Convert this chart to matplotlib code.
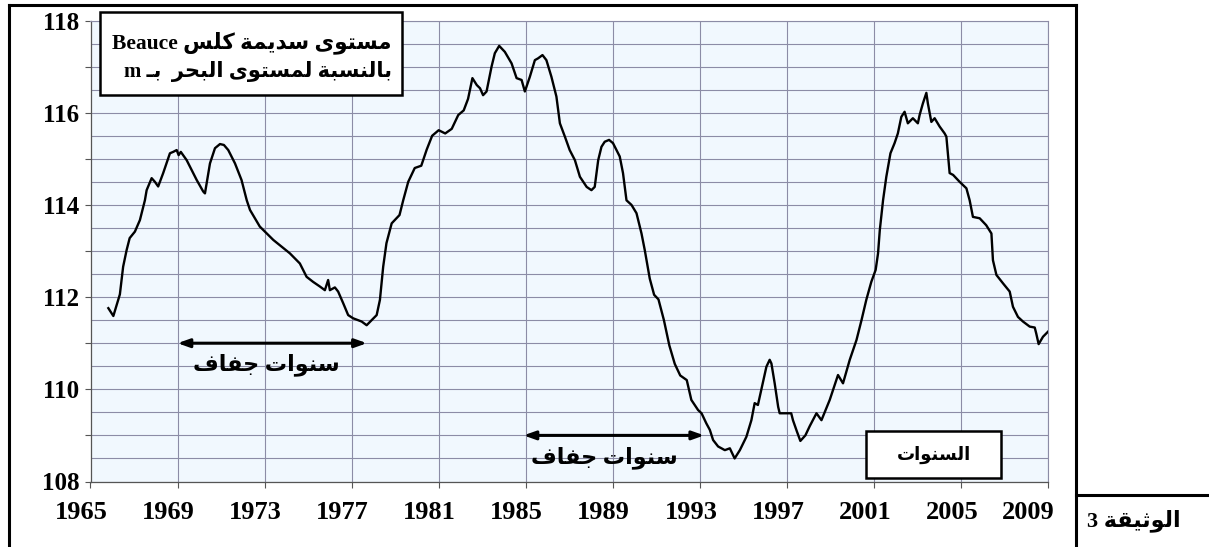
import matplotlib
matplotlib.use('Agg')
import matplotlib.pyplot as plt
from matplotlib.patches import Rectangle
from matplotlib.lines import Line2D
from matplotlib.transforms import ScaledTranslation

# ---------------- data ----------------
years = [1965.82, 1966.05, 1966.35, 1966.5, 1966.66, 1966.8, 1967.04, 1967.27, 1967.5, 1967.58,
         1967.81, 1967.96, 1968.11, 1968.34, 1968.65, 1968.8, 1968.96, 1969.05, 1969.15, 1969.42,
         1969.88, 1970.18, 1970.26, 1970.49, 1970.72, 1970.95, 1971.13, 1971.33, 1971.64, 1971.94,
         1972.18, 1972.33, 1972.78, 1973.4, 1974.16, 1974.62, 1974.93, 1975.23, 1975.54, 1975.77,
         1975.92, 1976.0, 1976.23, 1976.38, 1976.61, 1976.84, 1977.07, 1977.46, 1977.69, 1977.92,
         1978.15, 1978.3, 1978.45, 1978.6, 1978.84, 1979.2, 1979.37, 1979.6, 1979.9, 1980.2,
         1980.45, 1980.7, 1981.0, 1981.3, 1981.6, 1981.9, 1982.15, 1982.35, 1982.55, 1982.75,
         1982.9, 1983.04, 1983.2, 1983.43, 1983.58, 1983.78, 1984.04, 1984.35, 1984.58, 1984.81,
         1984.96, 1985.19, 1985.42, 1985.57, 1985.77, 1985.95, 1986.18, 1986.41, 1986.57, 1986.8,
         1987.02, 1987.26, 1987.49, 1987.8, 1988.02, 1988.17, 1988.33, 1988.48, 1988.63, 1988.83,
         1989.01, 1989.32, 1989.47, 1989.63, 1989.86, 1990.09, 1990.32, 1990.47, 1990.7, 1990.9,
         1991.1, 1991.35, 1991.6, 1991.85, 1992.1, 1992.4, 1992.61, 1992.92, 1993.08, 1993.3,
         1993.46, 1993.61, 1993.84, 1994.15, 1994.38, 1994.6, 1994.84, 1995.14, 1995.37, 1995.52,
         1995.67, 1995.83, 1996.06, 1996.21, 1996.29, 1996.44, 1996.6, 1996.67, 1997.2, 1997.28,
         1997.45, 1997.62, 1997.85, 1998.05, 1998.36, 1998.59, 1998.97, 1999.35, 1999.58, 1999.89,
         2000.2, 2000.43, 2000.65, 2000.88, 2001.08, 2001.19, 2001.27, 2001.42, 2001.57, 2001.76,
         2001.95, 2002.1, 2002.26, 2002.41, 2002.56, 2002.79, 2003.02, 2003.1, 2003.25, 2003.41,
         2003.48, 2003.64, 2003.79, 2004.02, 2004.25, 2004.33, 2004.48, 2004.64, 2004.94, 2005.25,
         2005.4, 2005.55, 2005.86, 2006.16, 2006.4, 2006.47, 2006.63, 2006.93, 2007.24, 2007.39,
         2007.62, 2007.85, 2008.16, 2008.39, 2008.46, 2008.57, 2008.77, 2009.0]
levels = [111.76, 111.59, 112.06, 112.66, 113.02, 113.28, 113.42, 113.67, 114.1, 114.32,
          114.58, 114.5, 114.4, 114.69, 115.12, 115.15, 115.19, 115.08, 115.15, 114.97,
          114.54, 114.29, 114.25, 114.9, 115.23, 115.32, 115.3, 115.19, 114.9, 114.54,
          114.1, 113.89, 113.53, 113.24, 112.95, 112.73, 112.44, 112.33, 112.23, 112.15,
          112.37, 112.15, 112.21, 112.12, 111.87, 111.61, 111.54, 111.47, 111.39, 111.5,
          111.61, 111.94, 112.66, 113.17, 113.6, 113.78, 114.1, 114.5, 114.8, 114.85,
          115.2, 115.5, 115.62, 115.55, 115.65, 115.95, 116.05, 116.3, 116.75, 116.6,
          116.53, 116.38, 116.46, 117.0, 117.29, 117.45, 117.32, 117.07, 116.75, 116.71,
          116.46, 116.78, 117.14, 117.18, 117.25, 117.14, 116.78, 116.35, 115.77, 115.48,
          115.19, 114.97, 114.61, 114.39, 114.32, 114.39, 114.97, 115.26, 115.37, 115.41,
          115.34, 115.05, 114.69, 114.1, 114.0, 113.82, 113.38, 113.02, 112.4, 112.05,
          111.95, 111.5, 110.95, 110.55, 110.3, 110.2, 109.77, 109.55, 109.48, 109.26,
          109.12, 108.9, 108.76, 108.68, 108.72, 108.5, 108.68, 108.97, 109.33, 109.7,
          109.66, 110.0, 110.49, 110.64, 110.56, 110.13, 109.62, 109.48, 109.48, 109.33,
          109.1, 108.88, 109.0, 109.2, 109.48, 109.33, 109.77, 110.31, 110.13, 110.64,
          111.07, 111.5, 111.94, 112.33, 112.59, 112.95, 113.45, 114.1, 114.61, 115.12,
          115.34, 115.55, 115.91, 116.02, 115.77, 115.88, 115.77, 115.95, 116.2, 116.43,
          116.2, 115.8, 115.88, 115.7, 115.55, 115.48, 114.69, 114.65, 114.5, 114.36,
          114.1, 113.74, 113.71, 113.56, 113.38, 112.8, 112.48, 112.3, 112.12, 111.79,
          111.57, 111.47, 111.36, 111.34, 111.21, 110.98, 111.14, 111.25]

x_ticks = [1965, 1969, 1973, 1977, 1981, 1985, 1989, 1993, 1997, 2001, 2005, 2009]
y_label_ticks = [108, 110, 112, 114, 116, 118]
y_all_ticks = [108, 109, 110, 111, 112, 113, 114, 115, 116, 117, 118]
drought_periods = [(1969.0, 1977.7, 111.0), (1984.9, 1993.2, 109.0)]

title_line1 = "مستوى سديمة كلس Beauce"
title_line2 = "بالنسبة لمستوى البحر  بـ m"
drought_text = "سنوات جفاف"
xlabel_text = "السنوات"
doc_text = "الوثيقة 3"

# ------------- minimal Arabic shaping (presentation forms) -------------
FORMS = {
    '\u0627': ('\uFE8D', '\uFE8E', None, None),
    '\u0623': ('\uFE83', '\uFE84', None, None),
    '\u0625': ('\uFE87', '\uFE88', None, None),
    '\u0622': ('\uFE81', '\uFE82', None, None),
    '\u0628': ('\uFE8F', '\uFE90', '\uFE91', '\uFE92'),
    '\u0629': ('\uFE93', '\uFE94', None, None),
    '\u062A': ('\uFE95', '\uFE96', '\uFE97', '\uFE98'),
    '\u062B': ('\uFE99', '\uFE9A', '\uFE9B', '\uFE9C'),
    '\u062C': ('\uFE9D', '\uFE9E', '\uFE9F', '\uFEA0'),
    '\u062D': ('\uFEA1', '\uFEA2', '\uFEA3', '\uFEA4'),
    '\u062E': ('\uFEA5', '\uFEA6', '\uFEA7', '\uFEA8'),
    '\u062F': ('\uFEA9', '\uFEAA', None, None),
    '\u0630': ('\uFEAB', '\uFEAC', None, None),
    '\u0631': ('\uFEAD', '\uFEAE', None, None),
    '\u0632': ('\uFEAF', '\uFEB0', None, None),
    '\u0633': ('\uFEB1', '\uFEB2', '\uFEB3', '\uFEB4'),
    '\u0634': ('\uFEB5', '\uFEB6', '\uFEB7', '\uFEB8'),
    '\u0635': ('\uFEB9', '\uFEBA', '\uFEBB', '\uFEBC'),
    '\u0636': ('\uFEBD', '\uFEBE', '\uFEBF', '\uFEC0'),
    '\u0637': ('\uFEC1', '\uFEC2', '\uFEC3', '\uFEC4'),
    '\u0638': ('\uFEC5', '\uFEC6', '\uFEC7', '\uFEC8'),
    '\u0639': ('\uFEC9', '\uFECA', '\uFECB', '\uFECC'),
    '\u063A': ('\uFECD', '\uFECE', '\uFECF', '\uFED0'),
    '\u0641': ('\uFED1', '\uFED2', '\uFED3', '\uFED4'),
    '\u0642': ('\uFED5', '\uFED6', '\uFED7', '\uFED8'),
    '\u0643': ('\uFED9', '\uFEDA', '\uFEDB', '\uFEDC'),
    '\u0644': ('\uFEDD', '\uFEDE', '\uFEDF', '\uFEE0'),
    '\u0645': ('\uFEE1', '\uFEE2', '\uFEE3', '\uFEE4'),
    '\u0646': ('\uFEE5', '\uFEE6', '\uFEE7', '\uFEE8'),
    '\u0647': ('\uFEE9', '\uFEEA', '\uFEEB', '\uFEEC'),
    '\u0648': ('\uFEED', '\uFEEE', None, None),
    '\u0649': ('\uFEEF', '\uFEF0', None, None),
    '\u064A': ('\uFEF1', '\uFEF2', '\uFEF3', '\uFEF4'),
}
TATWEEL = '\u0640'


def _dual(ch):
    return ch == TATWEEL or (ch in FORMS and FORMS[ch][2] is not None)


def _joining(ch):
    return ch == TATWEEL or ch in FORMS


def shape_word(s):
    out = []
    n = len(s)
    for i, c in enumerate(s):
        if c not in FORMS:
            out.append(c)
            continue
        prev = s[i - 1] if i > 0 else None
        nxt = s[i + 1] if i < n - 1 else None
        jp = prev is not None and _dual(prev)
        jn = nxt is not None and _dual(c) and _joining(nxt)
        iso, fin, ini, med = FORMS[c]
        if jp and jn:
            out.append(med)
        elif jp:
            out.append(fin)
        elif jn:
            out.append(ini)
        else:
            out.append(iso)
    return ''.join(out)


def ar(text):
    toks = text.split(' ')
    vis = []
    for t in toks:
        if any('\u0600' <= ch <= '\u06FF' for ch in t):
            vis.append(shape_word(t)[::-1])
        else:
            vis.append(t)
    return ' '.join(vis[::-1])


# ---------------- figure ----------------
W, H = 1209, 547
fig = plt.figure(figsize=(W / 100, H / 100), dpi=100)


def fx(px):
    return px / W


def fy(py):
    return 1 - py / H


ax = fig.add_axes([fx(90.5), fy(481.5), fx(1048) - fx(90.5), fy(20.5) - fy(481.5)])
ax.set_facecolor('#F1F8FE')
ax.set_xlim(1965, 2009)
ax.set_ylim(108, 118)

grid_c = '#8C8CA6'
for yv in [108 + 0.5 * k for k in range(21)]:
    ax.axhline(yv, color=grid_c, lw=0.8, zorder=1)
for xv in x_ticks:
    ax.axvline(xv, color=grid_c, lw=0.8, zorder=1)

ax.plot(years, levels, color='black', lw=1.7, zorder=3)

for s in ['top', 'right']:
    ax.spines[s].set_color(grid_c)
    ax.spines[s].set_linewidth(0.8)
for s in ['left', 'bottom']:
    ax.spines[s].set_color('#555555')
    ax.spines[s].set_linewidth(0.9)

serif_bold = dict(family=['Liberation Serif', 'DejaVu Sans'], weight='bold')

ax.set_yticks(y_all_ticks)
ax.set_yticklabels([str(v) if v in y_label_ticks else '' for v in y_all_ticks],
                   fontsize=18, **serif_bold)
ax.set_xticks(x_ticks)
ax.set_xticklabels([str(v) for v in x_ticks], fontsize=19, **serif_bold)
ax.tick_params(axis='y', direction='out', length=4, width=0.8, color='#555555', pad=4)
ax.tick_params(axis='x', direction='out', length=4, width=0.8, color='#555555', pad=10)

for lbl, xv in zip(ax.get_xticklabels(), x_ticks):
    dx = -20 if xv == 2009 else -9
    lbl.set_transform(lbl.get_transform() + ScaledTranslation(dx / 100, 0, fig.dpi_scale_trans))

# drought arrows
for (x0, x1, yv) in drought_periods:
    ax.annotate('', xy=(x0, yv), xytext=(x1, yv),
                arrowprops=dict(arrowstyle='<|-|>,head_length=0.7,head_width=0.25',
                                color='black', lw=2.2, shrinkA=0, shrinkB=0),
                zorder=4)

# ---------------- figure-level decorations ----------------
def frame_line(xs, ys, lw=2.2):
    fig.add_artist(Line2D([fx(v) for v in xs], [fy(v) for v in ys],
                          color='black', lw=lw, solid_capstyle='projecting'))


frame_line([9, 9], [5, 547])
frame_line([9, 1076], [5, 5])
frame_line([1076, 1076], [5, 547])
frame_line([1076, 1209], [495, 495])

def box(x0, y0, x1, y1):
    fig.add_artist(Rectangle((fx(x0), fy(y1)), fx(x1) - fx(x0), fy(y0) - fy(y1),
                             transform=fig.transFigure, facecolor='white',
                             edgecolor='black', lw=1.8, zorder=5))


box(100, 12, 402, 95)
fig.text(fx(392), fy(43), ar(title_line1), ha='right', va='center', fontsize=15.5,
         zorder=6, **serif_bold)
fig.text(fx(392), fy(72), ar(title_line2), ha='right', va='center', fontsize=15,
         zorder=6, **serif_bold)

box(866, 431, 1001, 478)
fig.text(fx(934), fy(455), ar(xlabel_text), ha='center', va='center', fontsize=13,
         zorder=6, **serif_bold)

fig.text(fx(266), fy(365), ar(drought_text), ha='center', va='center', fontsize=16,
         zorder=6, **serif_bold)
fig.text(fx(604), fy(458), ar(drought_text), ha='center', va='center', fontsize=16,
         zorder=6, **serif_bold)

fig.text(fx(1134), fy(521), ar(doc_text), ha='center', va='center', fontsize=16,
         zorder=6, **serif_bold)

fig.savefig('out.png', dpi=100, facecolor='white')
